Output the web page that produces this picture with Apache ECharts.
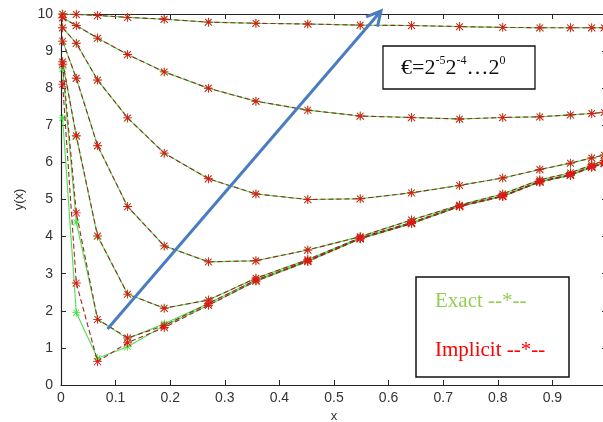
<!DOCTYPE html>
<html>
<head>
<meta charset="utf-8">
<script src="https://cdn.jsdelivr.net/npm/echarts@6/dist/echarts.min.js"></script>
<style>
html,body{margin:0;padding:0;background:#fff;}
#chart{width:603px;height:422px;}
</style>
</head>
<body>
<div id="chart"></div>
<script>
// mesh nodes (x)
const xNodes = [0.003, 0.028, 0.067, 0.122, 0.189, 0.270, 0.357, 0.452, 0.548, 0.642, 0.730, 0.809, 0.877, 0.933, 0.972, 0.995];

// implicit scheme values, one array per epsilon
const implicit1 = [10.00, 9.99, 9.96, 9.91, 9.86, 9.78, 9.75, 9.73, 9.70, 9.69, 9.66, 9.64, 9.63, 9.63, 9.63, 9.63];
const implicit2 = [9.90, 9.69, 9.35, 8.91, 8.44, 8.00, 7.65, 7.41, 7.25, 7.21, 7.17, 7.21, 7.23, 7.28, 7.32, 7.35];
const implicit3 = [9.63, 9.21, 8.22, 7.20, 6.25, 5.56, 5.15, 5.00, 5.02, 5.18, 5.38, 5.58, 5.81, 5.98, 6.12, 6.20];
const implicit4 = [9.27, 8.27, 6.45, 4.81, 3.75, 3.32, 3.35, 3.64, 4.00, 4.45, 4.85, 5.15, 5.53, 5.72, 5.93, 6.05];
const implicit5 = [8.71, 6.72, 4.02, 2.45, 2.07, 2.29, 2.88, 3.38, 3.97, 4.38, 4.83, 5.10, 5.49, 5.67, 5.89, 5.99];
const implicit6 = [8.65, 4.64, 1.77, 1.27, 1.60, 2.20, 2.83, 3.35, 3.95, 4.36, 4.82, 5.09, 5.48, 5.66, 5.88, 5.98];
const implicit7 = [8.11, 2.75, 0.63, 1.14, 1.55, 2.15, 2.80, 3.33, 3.94, 4.35, 4.81, 5.08, 5.47, 5.65, 5.87, 5.97];

// exact solution values
const exact1 = [10.00, 9.99, 9.96, 9.91, 9.86, 9.78, 9.75, 9.73, 9.70, 9.69, 9.66, 9.64, 9.63, 9.63, 9.63, 9.63];
const exact2 = [9.90, 9.69, 9.35, 8.91, 8.44, 8.00, 7.65, 7.41, 7.25, 7.21, 7.17, 7.21, 7.23, 7.28, 7.32, 7.35];
const exact3 = [9.63, 9.21, 8.22, 7.20, 6.25, 5.56, 5.15, 5.00, 5.02, 5.18, 5.38, 5.58, 5.81, 5.98, 6.12, 6.20];
const exact4 = [9.27, 8.27, 6.45, 4.81, 3.75, 3.32, 3.35, 3.64, 4.00, 4.45, 4.85, 5.15, 5.53, 5.72, 5.93, 6.05];
const exact5 = [8.71, 6.70, 4.00, 2.45, 2.07, 2.29, 2.88, 3.38, 3.97, 4.38, 4.83, 5.10, 5.49, 5.67, 5.89, 5.99];
const exact6 = [8.52, 4.39, 1.77, 1.25, 1.65, 2.20, 2.83, 3.35, 3.95, 4.36, 4.82, 5.09, 5.48, 5.66, 5.88, 5.98];
const exact7 = [7.20, 1.95, 0.72, 1.03, 1.60, 2.15, 2.80, 3.33, 3.94, 4.35, 4.81, 5.08, 5.47, 5.65, 5.87, 5.97];

const yTicks = [0, 1, 2, 3, 4, 5, 6, 7, 8, 9, 10];
const xTickLabels = ['0', '0.1', '0.2', '0.3', '0.4', '0.5', '0.6', '0.7', '0.8', '0.9'];

const exactSets = [exact1, exact2, exact3, exact4, exact5, exact6, exact7];
const implicitSets = [implicit1, implicit2, implicit3, implicit4, implicit5, implicit6, implicit7];

const STAR = 'path://M9 0L11 0L11 20L9 20Z M0 9L20 9L20 11L0 11Z M3.4 2L18.8 17.4L17.4 18.8L2 3.4Z M16.6 2L18 3.4L2.6 18.8L1.2 17.4Z';

const pair = arr => arr.map((v, i) => [xNodes[i], v]);

const series = [];
exactSets.forEach((arr, k) => {
  series.push({
    type: 'line', name: 'Exact ' + (k + 1), data: pair(arr), z: 2,
    symbol: STAR, symbolSize: 8,
    itemStyle: { color: '#3fe33f' },
    lineStyle: { color: '#4ee04e', width: 1.1, type: 'solid' },
    emphasis: { disabled: true }
  });
});
implicitSets.forEach((arr, k) => {
  series.push({
    type: 'line', name: 'Implicit ' + (k + 1), data: pair(arr), z: 3,
    symbol: STAR, symbolSize: 9,
    itemStyle: { color: '#e01818' },
    lineStyle: { color: '#9a2626', width: 1.1, type: [5, 3] },
    emphasis: { disabled: true }
  });
});

// arrow geometry (annotation, pixels)
const aStart = [107.5, 329], aEnd = [381, 11];
const dx = aEnd[0] - aStart[0], dy = aEnd[1] - aStart[1];
const L = Math.hypot(dx, dy), ux = -dx / L, uy = -dy / L;
const hl = 16, ang = 28 * Math.PI / 180;
const h1 = [aEnd[0] + hl * (ux * Math.cos(ang) - uy * Math.sin(ang)), aEnd[1] + hl * (ux * Math.sin(ang) + uy * Math.cos(ang))];
const h2 = [aEnd[0] + hl * (ux * Math.cos(-ang) - uy * Math.sin(-ang)), aEnd[1] + hl * (ux * Math.sin(-ang) + uy * Math.cos(-ang))];

const axisColor = '#262626';
const labelFont = { fontFamily: 'Liberation Sans, Arial, sans-serif', fontSize: 14, color: '#333' };

const chart = echarts.init(document.getElementById('chart'), null, { renderer: 'canvas' });
chart.setOption({
  animation: false,
  backgroundColor: '#ffffff',
  grid: { left: 61, top: 14, width: 546, height: 371, outerBoundsMode: 'none', containLabel: false },
  xAxis: [{
    type: 'value', min: 0, max: 1, interval: 0.1, position: 'bottom',
    name: 'x', nameLocation: 'middle', nameGap: 23,
    nameTextStyle: { fontFamily: 'Liberation Sans, Arial, sans-serif', fontSize: 13, color: '#333' },
    axisLine: { show: true, onZero: false, lineStyle: { color: axisColor, width: 1.2 } },
    axisTick: { show: true, inside: true, length: 5, lineStyle: { color: axisColor } },
    axisLabel: Object.assign({ margin: 6, formatter: v => { const i = Math.round(v * 10); return i < xTickLabels.length ? xTickLabels[i] : ''; } }, labelFont),
    splitLine: { show: false }
  }, {
    type: 'value', min: 0, max: 1, interval: 0.1, position: 'top',
    axisLine: { show: true, onZero: false, lineStyle: { color: axisColor, width: 1.2 } },
    axisTick: { show: true, inside: true, length: 5, lineStyle: { color: axisColor } },
    axisLabel: { show: false }, splitLine: { show: false }
  }],
  yAxis: [{
    type: 'value', min: yTicks[0], max: yTicks[yTicks.length - 1], interval: 1, position: 'left',
    name: 'y(x)', nameLocation: 'middle', nameGap: 35, nameRotate: 90,
    nameTextStyle: { fontFamily: 'Liberation Sans, Arial, sans-serif', fontSize: 13, color: '#333' },
    axisLine: { show: true, onZero: false, lineStyle: { color: axisColor, width: 1.2 } },
    axisTick: { show: true, inside: true, length: 5, lineStyle: { color: axisColor } },
    axisLabel: Object.assign({ margin: 8 }, labelFont),
    splitLine: { show: false }
  }, {
    type: 'value', min: 0, max: 10, interval: 1, position: 'right',
    axisLine: { show: true, onZero: false, lineStyle: { color: axisColor, width: 1.2 } },
    axisTick: { show: true, inside: true, length: 5, lineStyle: { color: axisColor } },
    axisLabel: { show: false }, splitLine: { show: false }
  }],
  series: series,
  graphic: [
    { type: 'line', z: 100, shape: { x1: aStart[0], y1: aStart[1], x2: aEnd[0], y2: aEnd[1] }, style: { stroke: '#4a7cc0', lineWidth: 3 } },
    { type: 'polyline', z: 100, shape: { points: [h1, aEnd, h2] }, style: { stroke: '#4a7cc0', lineWidth: 3, fill: null, lineJoin: 'miter' } },
    { type: 'rect', z: 100, shape: { x: 383, y: 46, width: 152, height: 43 }, style: { fill: '#fff', stroke: '#111', lineWidth: 1.3 } },
    { type: 'text', z: 101, x: 401, y: 67, style: {
        text: '{a|€=2}{s|-5}{a|2}{s|-4}{a|…2}{s|0}',
        verticalAlign: 'middle',
        rich: {
          a: { fontFamily: 'Liberation Serif, Times New Roman, serif', fontSize: 22, fill: '#111', lineHeight: 24, verticalAlign: 'bottom' },
          s: { fontFamily: 'Liberation Serif, Times New Roman, serif', fontSize: 12, fill: '#111', lineHeight: 24, verticalAlign: 'top' }
        }
      } },
    { type: 'rect', z: 100, shape: { x: 416, y: 277, width: 153, height: 100 }, style: { fill: '#fff', stroke: '#111', lineWidth: 1.5 } },
    { type: 'text', z: 101, x: 435, y: 301, style: { text: 'Exact --*--', fontFamily: 'Liberation Serif, Times New Roman, serif', fontSize: 21, fill: '#92d050', verticalAlign: 'middle' } },
    { type: 'text', z: 101, x: 435, y: 350, style: { text: 'Implicit --*--', fontFamily: 'Liberation Serif, Times New Roman, serif', fontSize: 21, fill: '#ff0000', verticalAlign: 'middle' } }
  ]
});
</script>
</body>
</html>
